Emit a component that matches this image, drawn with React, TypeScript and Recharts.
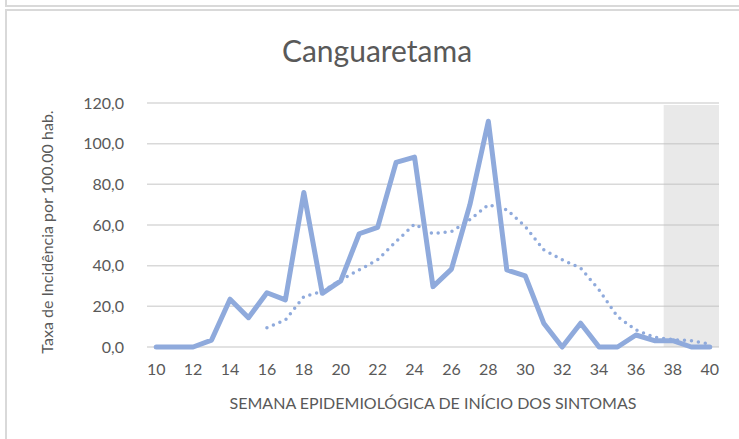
import React from "react";
import { ComposedChart, Line, XAxis, YAxis, CartesianGrid, ReferenceArea } from "recharts";

const weeks = [10, 11, 12, 13, 14, 15, 16, 17, 18, 19, 20, 21, 22, 23, 24, 25, 26, 27, 28, 29, 30, 31, 32, 33, 34, 35, 36, 37, 38, 39, 40];

const incidence = [0, 0, 0, 3.4, 23.5, 14.4, 26.7, 23.2, 76.0, 26.4, 32.5, 55.7, 58.8, 90.8, 93.4, 29.7, 38.3, 70.0, 111.0, 37.9, 35.0, 11.7, 0, 11.7, 0, 0, 5.9, 3.1, 3.1, 0, 0];

const movingAvg = [null, null, null, null, null, null, 9.5, 13.3, 24.8, 27.3, 33.0, 37.9, 42.9, 51.9, 60.4, 55.7, 56.8, 62.6, 70.0, 67.5, 59.3, 47.8, 42.9, 38.8, 28.1, 14.9, 8.4, 4.8, 3.6, 3.1, 1.5];

// gray band over the last weeks (incomplete data)
const shaded = [38, 39, 40];
const shadeTop = 119;

const yTicks = [0, 20, 40, 60, 80, 100, 120];

const data = weeks.map((w, i) => ({
  week: w,
  incidence: incidence[i],
  avg: movingAvg[i],
}));

const font = "Lato, 'Open Sans', sans-serif";
const textColor = "#595959";
const blue = "#8faadc";

export default function App() {
  return (
    <div style={{ position: "absolute", left: 0, top: 0, width: 739, height: 439, background: "#fff", overflow: "hidden", fontFamily: font }}>
      {/* frames */}
      <div style={{ position: "absolute", left: 5, top: -10, width: 760, height: 15, borderLeft: "2px solid #d9d9d9", borderBottom: "2px solid #d9d9d9" }} />
      <div style={{ position: "absolute", left: 5, top: 9, width: 760, height: 460, borderLeft: "2px solid #d9d9d9", borderTop: "2px solid #d9d9d9" }} />

      <div style={{ position: "absolute", left: 0, top: 0 }}>
        <ComposedChart
          width={739}
          height={439}
          data={data}
          margin={{ top: 103, right: 20, bottom: 62, left: 77 }}
        >
          <CartesianGrid vertical={false} stroke="#d9d9d9" strokeWidth={1.5} />
          <XAxis
            dataKey="week"
            scale="band"
            interval={1}
            axisLine={false}
            tickLine={false}
            height={30}
            tick={{ fill: textColor, fontSize: 16, fontFamily: font }}
            tickMargin={11}
          />
          <YAxis
            domain={[0, 120]}
            ticks={yTicks}
            width={70}
            axisLine={false}
            tickLine={false}
            tickFormatter={(v: number) => v.toFixed(1).replace(".", ",")}
            tick={{ fill: textColor, fontSize: 16, fontFamily: font, dx: -15 }}
          />
          <Line
            dataKey="incidence"
            stroke={blue}
            strokeWidth={5}
            strokeLinejoin="round"
            strokeLinecap="round"
            dot={false}
            activeDot={false}
            isAnimationActive={false}
          />
          <Line
            dataKey="avg"
            stroke={blue}
            strokeWidth={3.5}
            strokeDasharray="0 7"
            strokeLinecap="round"
            dot={false}
            activeDot={false}
            isAnimationActive={false}
          />
          <ReferenceArea
            x1={shaded[0]}
            x2={shaded[shaded.length - 1]}
            y1={0}
            y2={shadeTop}
            ifOverflow="visible"
            fill="#bfbfbf"
            fillOpacity={0.35}
            stroke="none"
          />
        </ComposedChart>
      </div>

      {/* titles */}
      <div style={{ position: "absolute", left: 0, width: 754, top: 32, textAlign: "center", fontSize: 30, color: textColor }}>
        Canguaretama
      </div>
      <div style={{ position: "absolute", left: 147, width: 572, top: 393, textAlign: "center", fontSize: 16, color: textColor }}>
        SEMANA EPIDEMIOLÓGICA DE INÍCIO DOS SINTOMAS
      </div>
      <div
        style={{
          position: "absolute",
          left: 46,
          top: 232,
          transform: "translate(-50%, -50%) rotate(-90deg)",
          whiteSpace: "nowrap",
          fontSize: 16,
          color: textColor,
        }}
      >
        Taxa de Incidência por 100.00 hab.
      </div>
    </div>
  );
}
